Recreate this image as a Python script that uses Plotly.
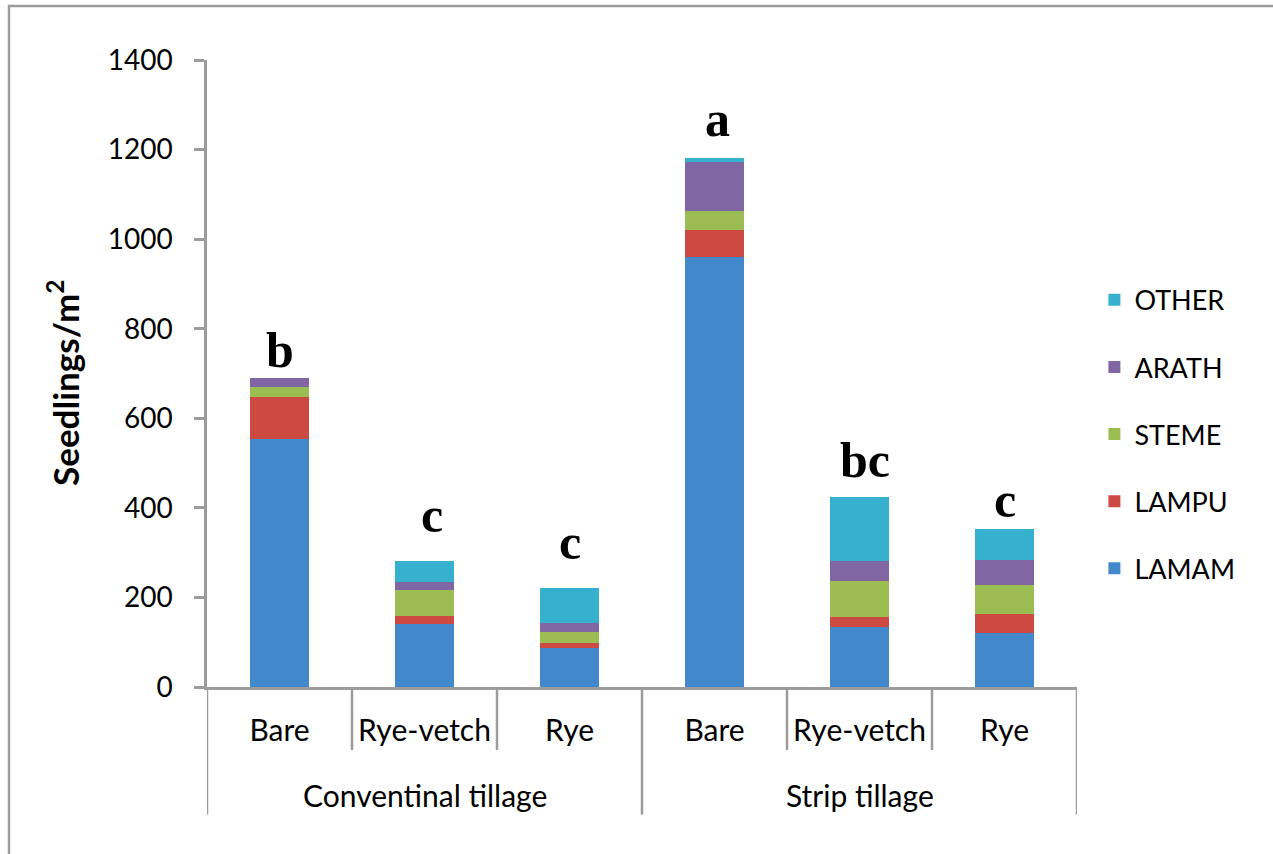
import plotly.graph_objects as go

# Treatments: tillage system (outer level) and cover crop (inner level)
tillage = ["Conventinal tillage", "Strip tillage"]
cover = ["Bare", "Rye-vetch", "Rye", "Bare", "Rye-vetch", "Rye"]
group_of = [0, 0, 0, 1, 1, 1]

# Seedlings per m² by species
LAMAM = [554, 141, 87, 960, 135, 121]
LAMPU = [93, 17, 11, 60, 22, 42]
STEME = [23, 59, 25, 43, 79, 64]
ARATH = [20, 18, 20, 109, 45, 56]
OTHER = [0, 46, 78, 9, 144, 69]

# Mean separation letters for total seedlings
letters = ["b", "c", "c", "a", "bc", "c"]

y_ticks = [0, 200, 400, 600, 800, 1000, 1200, 1400]

species = [
    ("LAMAM", LAMAM, "#4288CB"),
    ("LAMPU", LAMPU, "#CD4A42"),
    ("STEME", STEME, "#9CBD52"),
    ("ARATH", ARATH, "#8066A2"),
    ("OTHER", OTHER, "#36B1CD"),
]

xpos = list(range(len(cover)))
totals = [sum(v) for v in zip(LAMAM, LAMPU, STEME, ARATH, OTHER)]

TXT = "Lato, 'Open Sans', sans-serif"
GREY = "#9C9C9C"

fig = go.Figure()
for i, (name, vals, color) in enumerate(species):
    fig.add_trace(go.Bar(
        x=xpos, y=vals, name=name, legendgroup=name,
        legendrank=len(species) - i,  # top of stack listed first
        marker=dict(color=color, line=dict(width=0)),
    ))

# letter labels above each stack
letter_shift = [-2, 16, 16, 9, 7, -1]
letter_xshift = [0, 7, 0, 3, 5, 0]
for xi, tot, lab, dy, dx in zip(xpos, totals, letters, letter_shift, letter_xshift):
    fig.add_annotation(
        x=xi, y=tot, text=f"<b>{lab}</b>", showarrow=False,
        yanchor="bottom", yshift=dy, xshift=dx,
        font=dict(family="'Liberation Serif', 'DejaVu Serif', serif", size=50, color="black"),
    )

# outer-level group labels
for gi, gname in enumerate(tillage):
    members = [x for x, g in zip(xpos, group_of) if g == gi]
    fig.add_annotation(
        x=sum(members) / len(members), y=-0.172, yref="paper", text=gname,
        showarrow=False, yanchor="middle",
        font=dict(family=TXT, size=30, color="black"),
    )

# y-axis title
fig.add_annotation(
    x=-0.1655, y=0.485, xref="paper", yref="paper",
    text="<b>Seedlings/m<sup>2</sup></b>", textangle=-90, showarrow=False,
    xanchor="center", yanchor="middle",
    font=dict(family=TXT, size=35, color="black"),
)

# category divider lines below the axis
shapes = []
n = len(cover)
for b in range(n + 1):
    is_group_edge = b == 0 or b == n or group_of[b - 1] != group_of[b]
    shapes.append(dict(
        type="line", xref="x", yref="paper",
        x0=b - 0.5, x1=b - 0.5, y0=0, y1=-0.2035 if is_group_edge else -0.1005,
        line=dict(color=GREY, width=2.5),
    ))
# chart border
shapes.append(dict(
    type="rect", xref="paper", yref="paper",
    x0=-0.2276, x1=1.5, y0=-0.5, y1=1.0863,
    line=dict(color=GREY, width=2.5), fillcolor="rgba(0,0,0,0)",
))

fig.update_layout(
    width=1273, height=854,
    margin=dict(l=207, r=196, t=60, b=167),
    paper_bgcolor="white", plot_bgcolor="white",
    barmode="stack", bargap=0.59,
    shapes=shapes,
    showlegend=True,
    legend=dict(
        x=1.02, xanchor="left", y=0.403, yanchor="middle",
        traceorder="grouped", tracegroupgap=29,
        font=dict(family=TXT, size=27, color="black"),
        bgcolor="rgba(0,0,0,0)",
    ),
    xaxis=dict(
        range=[-0.5, n - 0.5], tickmode="array", tickvals=xpos, ticktext=cover,
        showline=True, linecolor=GREY, linewidth=2.5, ticks="",
        showgrid=False, zeroline=False, ticklabelstandoff=15,
        tickfont=dict(family=TXT, size=30, color="black"),
    ),
    yaxis=dict(
        range=[0, 1400], tickmode="array", tickvals=y_ticks,
        showline=True, linecolor=GREY, linewidth=2.5,
        ticks="outside", ticklen=10, tickcolor=GREY, tickwidth=2.5,
        ticklabelstandoff=16,
        showgrid=False, zeroline=False,
        tickfont=dict(family=TXT, size=28, color="black"),
    ),
)

fig.write_html("out.html")
